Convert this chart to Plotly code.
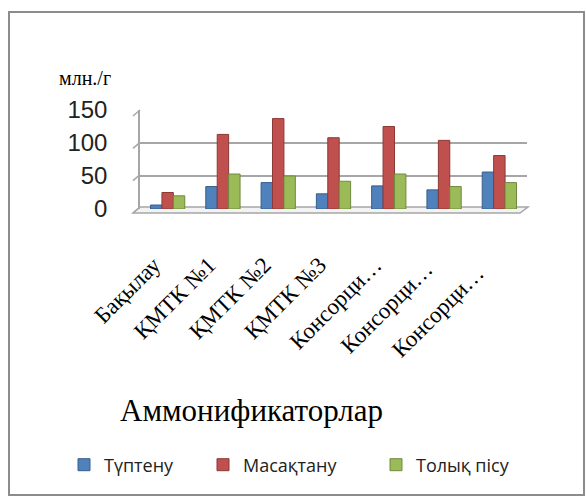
import plotly.graph_objects as go

# Categories and series (млн./г)
categories = ["Бақылау", "ҚМТК №1", "ҚМТК №2", "ҚМТК №3",
              "Консорци…", "Консорци… ", "Консорци…  "]
tuptenu = [6, 34, 40, 23, 35, 29, 56]
masaktanu = [25, 113, 137, 108, 125, 104, 81]
tolyk_pisu = [20, 53, 50, 42, 53, 34, 40]

series_names = ["Түптену", "Масақтану", "Толық пісу"]
colors = ["#4F81BD", "#C0504D", "#9BBB59"]
edge = ["#385D8A", "#8C3836", "#71893F"]
legend_ids = ["legend", "legend2", "legend3"]
legend_x = [64, 203, 376]  # left edge of each legend entry, px

W, H = 586, 498
L, R, T, B = 140, 527, 110, 209  # plot area in pixels


def px(x):
    return (x - L) / (R - L)


def py(y):
    return (B - y) / (B - T)


fig = go.Figure()
for name, vals, c, e, lg in zip(series_names, [tuptenu, masaktanu, tolyk_pisu], colors, edge, legend_ids):
    fig.add_trace(go.Bar(
        x=categories, y=vals, name=name, legend=lg,
        marker=dict(color=c, line=dict(color=e, width=1)),
    ))

shapes = [
    # outer frame
    dict(type="rect", xref="paper", yref="paper",
         x0=px(9), x1=px(584), y0=py(495), y1=py(12),
         line=dict(color="#8c8c8c", width=2), layer="below"),
    # floor (front edge)
    dict(type="path", xref="paper", yref="paper",
         path=f"M {px(140)},{py(207)} L {px(133)},{py(213)} L {px(520)},{py(213)} L {px(528)},{py(207)} Z",
         line=dict(color="#a6a6a6", width=1.5), fillcolor="rgba(235,235,235,0.6)", layer="below"),
]
# short diagonal stubs at the left end of each gridline
for v in [0, 50, 100, 150]:
    yv = py(207 - v * 97 / 150)
    shapes.append(dict(type="line", xref="paper", yref="paper",
                       x0=px(133), y0=yv - 6 / 99, x1=px(140), y1=yv,
                       line=dict(color="#a6a6a6", width=1.5)))

legend_font = dict(family="Open Sans, Liberation Sans, sans-serif", size=18, color="#222")
legends = {}
for lg, lx in zip(legend_ids, legend_x):
    legends[lg] = dict(orientation="h", xref="container", yref="container",
                       x=lx / W, y=1 - 465 / H, xanchor="left", yanchor="middle",
                       font=legend_font, itemwidth=30, bgcolor="rgba(0,0,0,0)")

fig.update_layout(
    width=W, height=H,
    margin=dict(l=L, r=W - R, t=T, b=H - B),
    paper_bgcolor="white", plot_bgcolor="white",
    barmode="group", bargap=0.38, bargroupgap=0.0,
    showlegend=True,
    shapes=shapes,
    annotations=[
        dict(text="млн./г", xref="paper", yref="paper", x=px(57), y=py(78),
             xanchor="left", yanchor="middle", showarrow=False,
             font=dict(family="Liberation Serif, serif", size=20, color="black")),
        dict(text="Аммонификаторлар", xref="paper", yref="paper", x=px(251), y=py(410),
             xanchor="center", yanchor="middle", showarrow=False,
             font=dict(family="Liberation Serif, serif", size=31, color="black")),
    ],
    font=dict(family="Liberation Serif, serif", color="black"),
    **legends,
)
fig.update_yaxes(range=[0, 150], tickvals=[0, 50, 100, 150],
                 showgrid=True, gridcolor="#a6a6a6", gridwidth=1.5,
                 showline=True, linecolor="#a6a6a6", linewidth=1.5,
                 zeroline=False, ticks="", ticklabelstandoff=26,
                 tickfont=dict(family="Liberation Sans, Arial, sans-serif", size=24, color="#222"))
fig.update_xaxes(tickangle=-45, showline=False, showgrid=False, ticks="",
                 ticklabelstandoff=37, ticklabelshift=-14,
                 tickfont=dict(family="Liberation Serif, serif", size=23, color="black"))

fig.write_html("out.html")
